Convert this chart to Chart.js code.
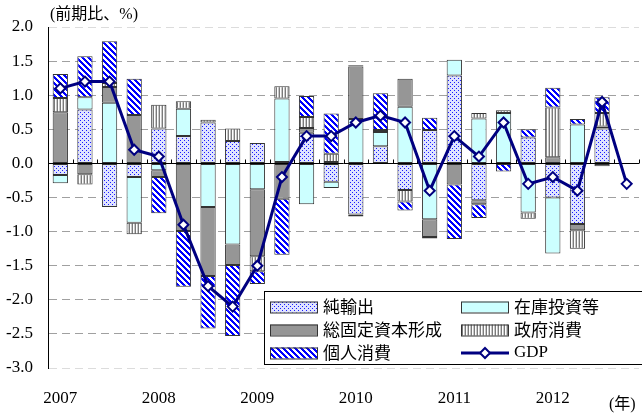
<!DOCTYPE html>
<html>
<head>
<meta charset="utf-8">
<script src="https://cdn.jsdelivr.net/npm/chart.js@4.4.0/dist/chart.umd.min.js"></script>
<style>
  html, body { margin: 0; padding: 0; background: #fff; overflow: hidden; }
  #wrap { width: 646px; height: 416px; }
</style>
</head>
<body>
<div id="wrap"><canvas id="gdpChart" width="646" height="416"></canvas></div>
<script>
  // quarterly contributions to real GDP growth (q/q, %)
  const quarters = ['2007Q1', '2007Q2', '2007Q3', '2007Q4', '2008Q1', '2008Q2', '2008Q3', '2008Q4',
                    '2009Q1', '2009Q2', '2009Q3', '2009Q4', '2010Q1', '2010Q2', '2010Q3', '2010Q4',
                    '2011Q1', '2011Q2', '2011Q3', '2011Q4', '2012Q1', '2012Q2', '2012Q3', '2012Q4'];
  const netExports = [-0.17, 0.79, -0.64, -0.20, 0.51, 0.40, 0.60, 0.33, 0.30, 0.02, 0.45, -0.27,
                      -0.75, 0.25, -0.39, 0.49, 1.29, -0.54, 0, 0.38, -0.50, -0.89, 0.51, null];
  const inventory = [-0.12, 0.18, 0.89, -0.67, -0.10, 0.40, -0.64, -1.19, -0.38, 0.93, -0.60, -0.09,
                     0.65, 0.21, 0.83, -0.82, 0.23, 0.66, 0.74, -0.72, -0.82, 0.57, 0.03, null];
  const fixedInvestment = [0.75, -0.16, 0.23, 0.71, -0.10, -0.99, -1.01, -0.30, -0.98, -0.52, 0.07, 0.02,
                           0.77, 0.03, 0.41, -0.26, -0.31, -0.06, 0, 0, 0.09, -0.09, -0.04, null];
  const govConsumption = [0.21, -0.15, 0.06, -0.17, 0.35, 0.11, 0.04, 0.18, -0.22, 0.18, 0.16, 0.12,
                          -0.03, 0, -0.17, -0.02, 0, 0.08, 0.04, -0.09, 0.73, -0.27, 0.20, null];
  const privConsumption = [0.35, 0.60, 0.61, 0.53, -0.53, -0.82, -0.77, -1.04, -0.19, -0.82, 0.31, 0.59,
                           0.02, 0.54, -0.13, 0.18, -0.80, -0.20, -0.12, 0.12, 0.29, 0.08, 0.23, null];
  const gdp = [1.1, 1.2, 1.2, 0.2, 0.1, -0.9, -1.8, -2.1, -1.5, -0.2, 0.4, 0.4,
               0.6, 0.7, 0.6, -0.4, 0.4, 0.1, 0.6, -0.3, -0.2, -0.4, 0.9, -0.3];

  const FONT = '"Liberation Serif", "Noto Sans CJK JP", serif';
  const JP = '"Noto Sans CJK JP", "Liberation Serif", sans-serif';

  const ctx = document.getElementById('gdpChart').getContext('2d');

  function makePattern(w, h, paint) {
    const c = document.createElement('canvas');
    c.width = w; c.height = h;
    const g = c.getContext('2d');
    paint(g);
    return ctx.createPattern(c, 'repeat');
  }

  const dotFill = makePattern(4, 4, g => {
    g.fillStyle = '#dfe3ff'; g.fillRect(0, 0, 4, 4);
    g.fillStyle = '#1a1aff'; g.fillRect(0, 0, 1, 1); g.fillRect(2, 2, 1, 1);
  });
  const diagFill = makePattern(6, 6, g => {
    g.fillStyle = '#fff'; g.fillRect(0, 0, 6, 6);
    g.fillStyle = '#0000ff';
    for (let y = 0; y < 6; y++) {
      for (let x = 0; x < 6; x++) {
        if ((((x - y) % 6) + 6) % 6 < 3) g.fillRect(x, y, 1, 1);
      }
    }
  });
  const vertFill = makePattern(3, 1, g => {
    g.fillStyle = '#7a7a7a'; g.fillRect(0, 0, 1, 1);
    g.fillStyle = '#ffffff'; g.fillRect(1, 0, 1, 1);
    g.fillStyle = '#c8c8c8'; g.fillRect(2, 0, 1, 1);
  });
  const grayFill = '#969696';
  const cyanFill = '#ccffff';

  const barStyle = {
    borderColor: '#333', borderSkipped: false, stack: 'c', order: 1,
    borderWidth: c => (c.raw === 0 || c.raw === null) ? 0 : 1,
    barPercentage: 0.62, categoryPercentage: 1
  };

  const legendItems = [
    { label: '純輸出', fill: dotFill, col: 0, row: 0 },
    { label: '在庫投資等', fill: cyanFill, col: 1, row: 0 },
    { label: '総固定資本形成', fill: grayFill, col: 0, row: 1 },
    { label: '政府消費', fill: vertFill, col: 1, row: 1 },
    { label: '個人消費', fill: diagFill, col: 0, row: 2 },
    { label: 'GDP', line: true, col: 1, row: 2 }
  ];

  const decorPlugin = {
    id: 'decor',
    beforeDatasetsDraw(chart) {
      const { ctx, chartArea, scales: { x, y } } = chart;
      const y0 = Math.round(y.getPixelForValue(0)) + 0.5;
      const step = x.getPixelForValue(1) - x.getPixelForValue(0);
      ctx.save();
      ctx.strokeStyle = '#000';
      ctx.lineWidth = 1;
      ctx.beginPath();
      ctx.moveTo(chartArea.left, y0);
      ctx.lineTo(chartArea.right, y0);
      for (let i = 0; i <= quarters.length; i++) {
        const xb = Math.round(x.getPixelForValue(i) - step / 2) + 0.5;
        ctx.moveTo(xb, y0);
        ctx.lineTo(xb, y0 - 4);
      }
      ctx.stroke();
      ctx.restore();
    },
    afterDraw(chart) {
      const { ctx } = chart;
      ctx.save();
      ctx.fillStyle = '#000';
      ctx.textBaseline = 'middle';
      ctx.font = '16px ' + FONT;
      ctx.fillText('(前期比、%)', 50, 15);
      ctx.fillText('(年)', 609, 405);

      // legend box
      ctx.fillStyle = '#fff';
      ctx.fillRect(264, 291, 382, 74);
      ctx.strokeStyle = '#000';
      ctx.lineWidth = 1;
      ctx.strokeRect(264.5, 291.5, 390, 73);
      const colX = [270, 461];
      const rowY = [307, 330, 353];
      ctx.font = '17px ' + JP;
      legendItems.forEach(it => {
        const sx = colX[it.col];
        const cy = rowY[it.row];
        if (it.line) {
          ctx.strokeStyle = '#000080';
          ctx.lineWidth = 3;
          ctx.beginPath();
          ctx.moveTo(sx, cy);
          ctx.lineTo(sx + 48, cy);
          ctx.stroke();
          ctx.beginPath();
          ctx.moveTo(sx + 24, cy - 5);
          ctx.lineTo(sx + 29, cy);
          ctx.lineTo(sx + 24, cy + 5);
          ctx.lineTo(sx + 19, cy);
          ctx.closePath();
          ctx.fillStyle = '#fff';
          ctx.fill();
          ctx.lineWidth = 2;
          ctx.stroke();
          ctx.font = '17px ' + FONT;
        } else {
          ctx.fillStyle = it.fill;
          ctx.fillRect(sx, cy - 5.5, 48, 11);
          ctx.strokeStyle = '#333';
          ctx.lineWidth = 1;
          ctx.strokeRect(sx + 0.5, cy - 5, 47, 11);
        }
        ctx.fillStyle = '#000';
        ctx.fillText(it.label, sx + 53, cy);
      });
      ctx.restore();
    }
  };

  new Chart(ctx, {
    type: 'bar',
    data: {
      labels: quarters,
      datasets: [
        { label: '純輸出', data: netExports, backgroundColor: dotFill, ...barStyle },
        { label: '在庫投資等', data: inventory, backgroundColor: cyanFill, ...barStyle },
        { label: '総固定資本形成', data: fixedInvestment, backgroundColor: grayFill, ...barStyle },
        { label: '政府消費', data: govConsumption, backgroundColor: vertFill, ...barStyle },
        { label: '個人消費', data: privConsumption, backgroundColor: diagFill, ...barStyle },
        {
          type: 'line', label: 'GDP', data: gdp, stack: 'gdp', order: 0,
          borderColor: '#000080', borderWidth: 3, tension: 0,
          pointStyle: 'rectRot', pointRadius: 5, pointBorderWidth: 2,
          pointBackgroundColor: '#fff', pointBorderColor: '#000080'
        }
      ]
    },
    options: {
      responsive: false,
      animation: false,
      layout: { padding: { top: 27, right: 0, bottom: 0, left: 0 } },
      plugins: { legend: { display: false }, tooltip: { enabled: false } },
      scales: {
        x: {
          stacked: true,
          grid: { display: false },
          border: { display: false },
          ticks: {
            autoSkip: false, maxRotation: 0, minRotation: 0, padding: 12,
            color: '#000', font: { family: FONT, size: 17 },
            callback: (v, i) => quarters[i].endsWith('Q1') ? quarters[i].slice(0, 4) : ''
          },
          afterFit: s => { s.height = 48; }
        },
        y: {
          stacked: true,
          min: -3, max: 2,
          ticks: {
            stepSize: 0.5, padding: 15, color: '#000',
            font: { family: FONT, size: 17 },
            callback: v => Math.abs(v) < 1e-9 ? '0.0' : v.toFixed(1)
          },
          grid: {
            drawTicks: false,
            color: c => {
              const v = c.tick ? c.tick.value : null;
              if (v === null) return '#a0a0a0';
              if (Math.abs(v) < 1e-9) return 'rgba(0,0,0,0)';
              if (v >= 2 || v <= -3) return '#dcdcdc';
              return '#a0a0a0';
            }
          },
          border: { display: true, color: '#000', width: 1, dash: [8, 5] },
          afterFit: s => { s.width = 48; }
        }
      }
    },
    plugins: [decorPlugin]
  });
</script>
</body>
</html>
